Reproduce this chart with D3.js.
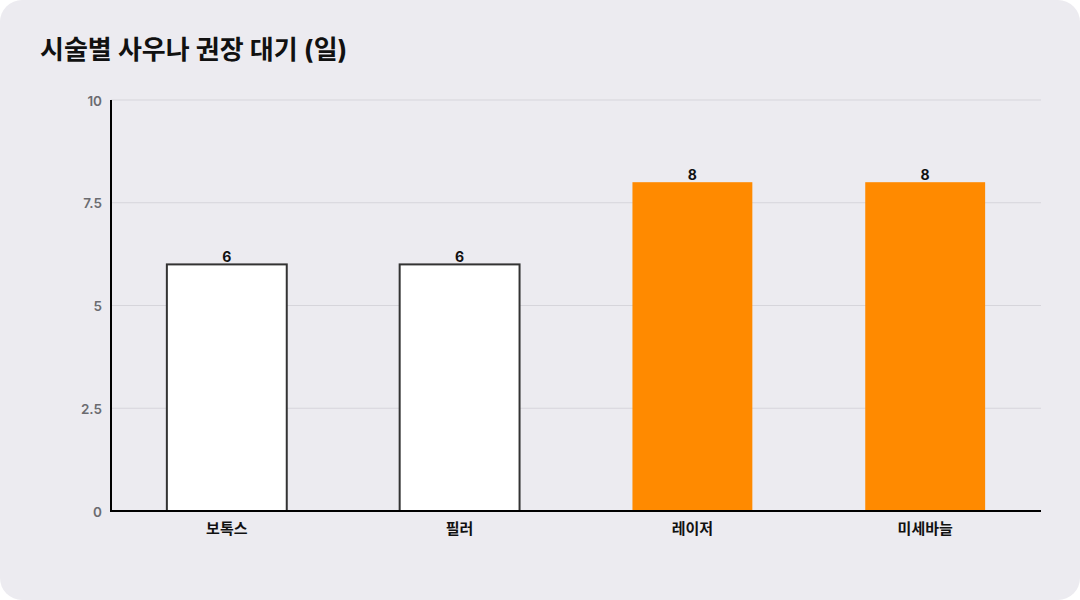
<!DOCTYPE html>
<meta charset="utf-8">
<title>시술별 사우나 권장 대기</title>
<script src="https://d3js.org/d3.v7.min.js"></script>
<style>
  html, body { margin: 0; padding: 0; background: #fff; }
  text { font-family: Inter, "Noto Sans CJK KR", sans-serif; }
</style>
<body>
<script>

// data
const categories = ["보톡스", "필러", "레이저", "미세바늘"];
const waitDays = [6, 6, 8, 8];
const highlighted = [false, false, true, true];
const yTicks = [0, 2.5, 5, 7.5, 10];
const yTickLabels = ["0", "2.5", "5", "7.5", "10"];

const width = 1080;
const height = 600;
const margin = { top: 100, right: 39, bottom: 89, left: 111 };

const svg = d3.select("body").append("svg")
  .attr("width", width)
  .attr("height", height);

// card background
svg.append("rect")
  .attr("x", 0).attr("y", 0)
  .attr("width", width).attr("height", height)
  .attr("rx", 22)
  .attr("fill", "#ecebf0");

svg.append("text")
  .attr("x", 40)
  .attr("y", 59)
  .attr("font-size", 26)
  .attr("font-weight", 700)
  .attr("fill", "#111")
  .text("시술별 사우나 권장 대기 (일)");

const x = d3.scaleBand()
  .domain(categories)
  .range([margin.left, width - margin.right])
  .paddingInner(0.485)
  .paddingOuter(0.24);

const y = d3.scaleLinear()
  .domain([0, 10])
  .range([height - margin.bottom, margin.top]);

// gridlines
svg.append("g")
  .selectAll("line")
  .data(yTicks.slice(1))
  .join("line")
  .attr("x1", margin.left)
  .attr("x2", width - margin.right)
  .attr("y1", d => y(d))
  .attr("y2", d => y(d))
  .attr("stroke", "#d6d5db")
  .attr("stroke-width", 1);

// y tick labels
svg.append("g")
  .selectAll("text")
  .data(yTicks)
  .join("text")
  .attr("x", margin.left - 9)
  .attr("y", d => y(d) + 1)
  .attr("dy", "0.35em")
  .attr("text-anchor", "end")
  .attr("font-size", 13.5)
  .attr("font-weight", 600)
  .attr("fill", "#6b6b70")
  .text((d, i) => yTickLabels[i]);

// bars
svg.append("g")
  .selectAll("rect")
  .data(waitDays)
  .join("rect")
  .attr("x", (d, i) => x(categories[i]))
  .attr("y", d => y(d))
  .attr("width", x.bandwidth())
  .attr("height", d => y(0) - y(d))
  .attr("fill", (d, i) => highlighted[i] ? "#ff8a00" : "#ffffff")
  .attr("stroke", (d, i) => highlighted[i] ? "none" : "#333")
  .attr("stroke-width", 2);

// value labels
svg.append("g")
  .selectAll("text")
  .data(waitDays)
  .join("text")
  .attr("x", (d, i) => x(categories[i]) + x.bandwidth() / 2)
  .attr("y", d => y(d) - 2)
  .attr("text-anchor", "middle")
  .attr("font-size", 14)
  .attr("font-weight", 700)
  .attr("fill", "#111")
  .text(d => d);

// axes lines
svg.append("line")
  .attr("x1", margin.left).attr("x2", margin.left)
  .attr("y1", margin.top).attr("y2", y(0) + 1)
  .attr("stroke", "#000").attr("stroke-width", 2);
svg.append("line")
  .attr("x1", margin.left - 1).attr("x2", width - margin.right)
  .attr("y1", y(0)).attr("y2", y(0))
  .attr("stroke", "#000").attr("stroke-width", 2);

// category labels
svg.append("g")
  .selectAll("text")
  .data(categories)
  .join("text")
  .attr("x", d => x(d) + x.bandwidth() / 2)
  .attr("y", y(0) + 23)
  .attr("text-anchor", "middle")
  .attr("font-size", 15)
  .attr("font-weight", 700)
  .attr("fill", "#111")
  .text(d => d);

</script>
</body>
